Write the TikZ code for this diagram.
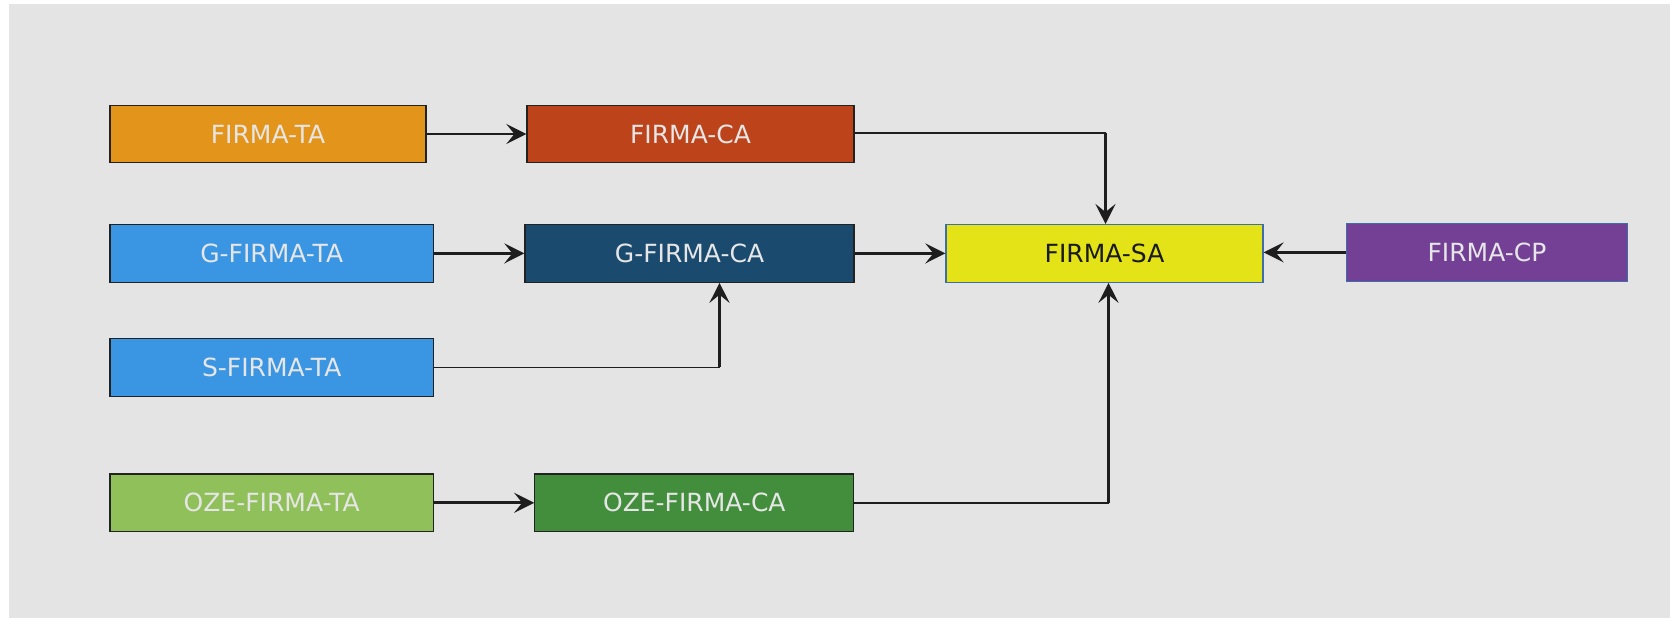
\documentclass[tikz,border=0pt]{standalone}
\usepackage{fontspec}
\setmainfont{DejaVu Sans}
\usetikzlibrary{arrows.meta,calc}
\definecolor{bggray}{HTML}{E4E4E4}
\definecolor{cta}{HTML}{E3941A}
\definecolor{cca}{HTML}{BC431A}
\definecolor{cgta}{HTML}{3A96E3}
\definecolor{cgca}{HTML}{1A4A6E}
\definecolor{csa}{HTML}{E3E318}
\definecolor{ccp}{HTML}{734096}
\definecolor{cozta}{HTML}{90C05A}
\definecolor{cozca}{HTML}{438E3C}
\definecolor{txtlight}{HTML}{E6E6E6}
\definecolor{txtdark}{HTML}{1A1A1A}
\definecolor{bdark}{HTML}{222222}
\definecolor{bblue}{HTML}{3C6EA8}
\definecolor{lncol}{HTML}{1E1E1E}
\begin{document}
\begin{tikzpicture}[x=1pt,y=-1pt,
  box/.style={draw=bdark,line width=1.3pt,rectangle,inner sep=0pt,minimum height=57.5pt,
    text=txtlight,font=\fontsize{25}{30}\selectfont},
  bluebox/.style={box,draw=bblue},
  arr/.style={draw=lncol,line width=2.7pt,-{Stealth[length=20pt,width=20pt,inset=8pt]}},
  thinline/.style={draw=lncol,line width=1.5pt}]
\useasboundingbox (0,0) rectangle (1670,618);
\fill[bggray] (9,4) rectangle (1670,618);
\node[box,fill=cta,minimum width=316pt] (ta) at (268,134) {FIRMA-TA};
\node[box,fill=cca,minimum width=327pt] (ca) at (690.5,134) {FIRMA-CA};
\node[box,fill=cgta,minimum width=323.5pt] (gta) at (271.7,253.4) {G-FIRMA-TA};
\node[box,fill=cgca,minimum width=329pt] (gca) at (689.5,253.4) {G-FIRMA-CA};
\node[bluebox,fill=csa,minimum width=317pt,text=txtdark] (sa) at (1104.5,253.4) {FIRMA-SA};
\node[bluebox,fill=ccp,minimum width=280.5pt] (cp) at (1487,252.4) {FIRMA-CP};
\node[box,fill=cgta,minimum width=323.5pt] (sta) at (271.7,367.4) {S-FIRMA-TA};
\node[box,fill=cozta,minimum width=323.5pt] (ozta) at (271.7,502.8) {OZE-FIRMA-TA};
\node[box,fill=cozca,minimum width=319pt] (ozca) at (694.3,502.8) {OZE-FIRMA-CA};
% connectors
\draw[arr] (ta.east) -- (ca.west);
\draw[arr] (gta.east) -- (gca.west);
\draw[arr] (gca.east) -- (sa.west);
\draw[arr] (cp.west) -- (sa.east |- cp.west);
\draw[arr] (ozta.east) -- (ozca.west);
\coordinate (k1) at ($(ca.east -| sa.north)+(1,-1)$);
\draw[thinline] ($(ca.east)+(0,-1)$) -- (k1);
\draw[arr] (k1) -- (k1 |- sa.north);
\coordinate (k2) at ($(sta.east -| gca.south)+(30,0)$);
\draw[thinline] (sta.east) -- (k2);
\draw[arr] (k2) -- (k2 |- gca.south);
\coordinate (k3) at ($(ozca.east -| sa.south)+(4,0)$);
\draw[thinline] (ozca.east) -- (k3);
\draw[arr] (k3) -- (k3 |- sa.south);
\end{tikzpicture}
\end{document}
